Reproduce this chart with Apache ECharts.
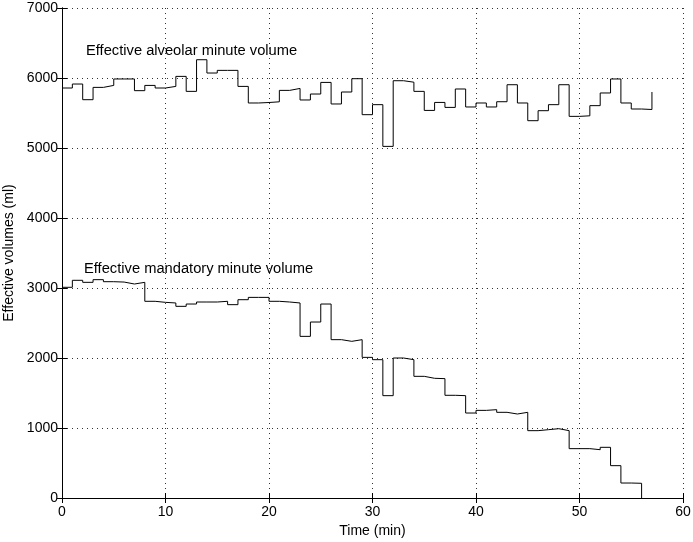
<!DOCTYPE html>
<html><head><meta charset="utf-8">
<script src="https://cdn.jsdelivr.net/npm/echarts@6/dist/echarts.min.js"></script>
<style>html,body{margin:0;padding:0;background:#fff}#c{width:693px;height:542px}</style>
</head><body><div id="c"></div>
<script>
const alveolar = [5857,5914,5690,5866,5894,5986,5986,5819,5894,5857,5880,6023,5809,6261,6071,6109,6109,5880,5643,5650,5660,5823,5851,5686,5771,5937,5629,5800,5990,5476,5619,5023,5961,5940,5809,5537,5651,5580,5843,5586,5643,5586,5661,5904,5643,5390,5533,5619,5904,5452,5460,5605,5786,5986,5643,5557,5550,5800];
const mandatory = [3010,3110,3081,3119,3090,3085,3057,3081,2810,2795,2786,2738,2771,2800,2800,2810,2762,2833,2866,2866,2810,2800,2786,2309,2514,2771,2262,2238,2262,2009,1976,1462,2000,1976,1738,1710,1705,1467,1462,1214,1252,1262,1224,1200,1224,962,976,990,962,705,705,690,724,462,214,210,0];
const xTicks = [0,10,20,30,40,50,60];
const yTicks = [0,1000,2000,3000,4000,5000,6000,7000];
const labels = ["Effective alveolar minute volume","Effective mandatory minute volume"];

const toPairs = arr => arr.map((v,i)=>[i,v]);
const font = 'Liberation Sans, Arial, sans-serif';
const chart = echarts.init(document.getElementById('c'));
const axLine = {show:true,lineStyle:{color:'#000',width:1}};
const split = {show:true,lineStyle:{color:'#333',type:[1,4],width:1}};
const tick = {inside:true,length:5,lineStyle:{color:'#000'}};
chart.setOption({
  animation:false,
  grid:{left:62,top:8,width:621,height:490,containLabel:false,outerBoundsMode:'none'},
  xAxis:[{type:'value',min:xTicks[0],max:xTicks[xTicks.length-1],interval:10,axisLine:axLine,
    axisTick:tick,
    axisLabel:{color:'#000',fontFamily:font,fontSize:14,margin:7,formatter:v=>String(v)},
    splitLine:split,name:'Time (min)',nameLocation:'middle',nameGap:25,
    nameTextStyle:{color:'#000',fontFamily:font,fontSize:14}},
    {type:'value',position:'top',min:xTicks[0],max:xTicks[xTicks.length-1],interval:10,axisLine:axLine,
    axisTick:tick,axisLabel:{show:false},splitLine:{show:false}}],
  yAxis:[{type:'value',min:yTicks[0],max:yTicks[yTicks.length-1],interval:1000,axisLine:axLine,
    axisTick:tick,
    axisLabel:{color:'#000',fontFamily:font,fontSize:14,margin:4,formatter:v=>String(v)},
    splitLine:split,name:'Effective volumes (ml)',nameLocation:'middle',nameGap:43,nameRotate:90,
    nameTextStyle:{color:'#000',fontFamily:font,fontSize:14}},
    {type:'value',position:'right',min:yTicks[0],max:yTicks[yTicks.length-1],interval:1000,axisLine:axLine,
    axisTick:tick,axisLabel:{show:false},splitLine:{show:false}}],
  series:[
    {type:'line',step:'end',data:toPairs(alveolar),showSymbol:false,lineStyle:{color:'#000',width:1}},
    {type:'line',step:'end',data:toPairs(mandatory),showSymbol:false,lineStyle:{color:'#000',width:1}}
  ],
  graphic:[
    {type:'text',left:86,top:43,style:{text:labels[0],fill:'#000',font:'14.7px '+font}},
    {type:'text',left:84,top:261,style:{text:labels[1],fill:'#000',font:'14.7px '+font}}
  ]
});
</script></body></html>
